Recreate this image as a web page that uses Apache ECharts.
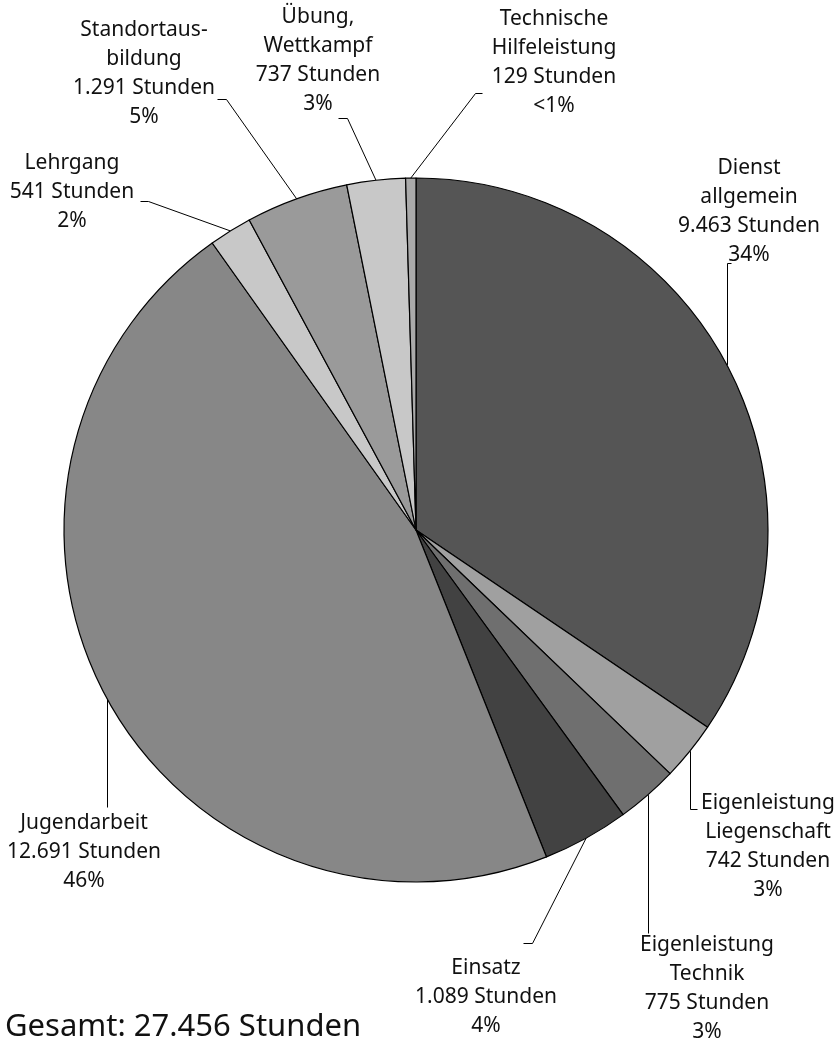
<!DOCTYPE html>
<html>
<head>
<meta charset="utf-8">
<script src="https://cdn.jsdelivr.net/npm/echarts@6/dist/echarts.min.js"></script>
<style>
  html, body { margin: 0; padding: 0; background: #fff; }
  #chart { width: 839px; height: 1049px; }
</style>
</head>
<body>
<div id="chart"></div>
<script>
// Kategorien (im Uhrzeigersinn ab 12 Uhr)
var categories = [
  'Dienst\nallgemein',
  'Eigenleistung\nLiegenschaft',
  'Eigenleistung\nTechnik',
  'Einsatz',
  'Jugendarbeit',
  'Lehrgang',
  'Standortaus-\nbildung',
  'Übung,\nWettkampf',
  'Technische\nHilfeleistung'
];
// Stunden je Kategorie
var hours = [9463, 742, 775, 1089, 12691, 541, 1291, 737, 129];
var totalHours = 27456;

// Stil: Graustufen der Segmente
var sliceColors = ['#555555', '#a0a0a0', '#6f6f6f', '#424242', '#878787', '#c8c8c8', '#9a9a9a', '#c8c8c8', '#aaaaaa'];
// Label-Position (Mitte x, Oberkante y) und Knick/Ende der Führungslinie
var labelPos = [
  [749, 154], [768, 789], [707, 931], [486, 954], [84, 809],
  [72, 149], [144, 16], [318, 3], [554, 5]
];
var leaderPts = [
  [[727, 263], [731, 263]],
  [[690, 809], [697, 809]],
  [[648, 933], [648, 933]],
  [[532, 943], [523, 943]],
  [[107, 807], [107, 807]],
  [[148, 201], [140, 201]],
  [[226, 99], [217, 99]],
  [[347, 118], [338, 118]],
  [[475, 93], [482, 93]]
];

function fmt(n) {
  return String(n).replace(/\B(?=(\d{3})+(?!\d))/g, '.');
}

// halbe Pixel, damit 1px-Linien scharf bleiben
function crisp(p) {
  return [Math.round(p[0]) + 0.5, Math.round(p[1]) + 0.5];
}

var chart = echarts.init(document.getElementById('chart'), null, { renderer: 'canvas' });

var data = categories.map(function (c, i) {
  return { name: c, value: hours[i], itemStyle: { color: sliceColors[i] } };
});

var option = {
  animation: false,
  title: {
    text: 'Gesamt: ' + fmt(totalHours) + ' Stunden',
    left: 0,
    top: 1007,
    textStyle: {
      fontFamily: 'Noto Sans',
      fontWeight: 'normal',
      fontSize: 31,
      color: '#111'
    }
  },
  series: [{
    type: 'pie',
    center: [416, 530],
    radius: 352,
    startAngle: 90,
    clockwise: true,
    avoidLabelOverlap: false,
    data: data,
    itemStyle: { borderColor: '#000', borderWidth: 1.2 },
    label: {
      show: true,
      position: 'outside',
      fontFamily: 'Noto Sans',
      fontSize: 21,
      lineHeight: 29,
      color: '#111',
      align: 'center',
      formatter: function (p) {
        var pct = p.percent < 1 ? '<1%' : Math.round(p.percent) + '%';
        return p.name + '\n' + fmt(p.value) + ' Stunden\n' + pct;
      }
    },
    labelLine: {
      show: true,
      smooth: false,
      length: 20,
      length2: 10,
      lineStyle: { color: '#000', width: 1 }
    },
    labelLayout: function (params) {
      var i = params.dataIndex;
      var pos = labelPos[i];
      var edge = params.labelLinePoints ? params.labelLinePoints[0] : pos;
      var bend = crisp(leaderPts[i][0]);
      // senkrechte Linien: Startpunkt auf dieselbe Spalte legen
      if (Math.abs(edge[0] - bend[0]) < 2) {
        edge = [bend[0], edge[1]];
      }
      return {
        x: pos[0],
        y: pos[1],
        align: 'center',
        verticalAlign: 'top',
        labelLinePoints: [edge, bend, crisp(leaderPts[i][1])]
      };
    }
  }]
};

chart.setOption(option);
</script>
</body>
</html>
